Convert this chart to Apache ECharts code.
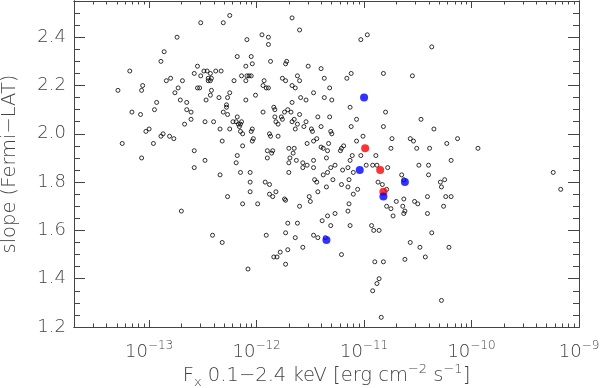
<!DOCTYPE html>
<html>
<head>
<meta charset="utf-8">
<script src="https://cdn.jsdelivr.net/npm/echarts@6/dist/echarts.min.js"></script>
<style>
  html, body { margin: 0; padding: 0; background: #fff; }
  #chart { width: 600px; height: 388px; }
</style>
</head>
<body>
<div id="chart"></div>
<script>
// log10 of F_x (0.1-2.4 keV) and Fermi-LAT slope, open circles
const logFlux = [
  -12.74, -12.86, -12.89, -13.18, -12.55, -12.58, -13.29, -13.06, -13.07, -12.80,
  -12.84, -12.69, -12.73, -12.76, -12.55, -12.53, -12.71, -12.93, -12.95, -12.65,
  -12.65, -12.61, -13.16, -13.08, -12.61, -12.67, -13.00, -13.03, -12.87, -12.89,
  -12.81, -12.77, -12.96, -13.25, -12.58, -13.07, -12.58, -12.70, -12.25, -12.31,
  -12.52, -11.67, -11.60, -11.95, -11.89, -11.89, -12.09, -11.87, -12.18, -12.05,
  -12.10, -12.04, -11.73, -11.72, -12.49, -12.46, -12.43, -12.38, -12.33, -12.52,
  -12.45, -12.43, -12.45, -12.42, -12.21, -12.14, -12.10, -12.09, -12.07, -12.05,
  -11.76, -11.73, -12.42, -12.47, -12.43, -12.35, -12.25, -12.27, -12.48, -12.40,
  -12.34, -12.28, -12.28, -12.31, -12.27, -12.25, -12.18, -12.22, -12.19, -12.17,
  -12.15, -12.14, -12.16, -12.15, -12.13, -12.10, -12.01, -11.94, -11.93, -11.91,
  -11.89, -11.94, -11.84, -11.83, -11.71, -11.74, -11.77, -11.76, -11.83, -11.82,
  -11.80, -11.80, -11.88, -11.87, -12.04, -12.05, -12.32, -12.13, -12.03, -12.04,
  -11.70, -11.03, -10.97, -11.52, -11.40, -11.62, -11.60, -11.37, -11.12, -11.16,
  -10.82, -10.55, -11.67, -11.64, -11.32, -11.47, -11.37, -11.30, -11.59, -11.54,
  -11.67, -11.13, -10.80, -10.47, -11.68, -11.60, -11.43, -11.32, -11.65, -11.67,
  -11.62, -11.54, -11.56, -11.64, -11.49, -11.48, -11.40, -11.31, -11.30, -11.07,
  -11.12, -10.82, -11.01, -11.07, -10.74, -10.57, -10.54, -11.44, -11.47, -11.33,
  -11.53, -11.40, -11.38, -11.19, -11.21, -11.65, -10.75, -10.51, -10.37, -10.35,
  -10.13, -10.23, -9.94, -10.19, -9.24, -9.17, -10.25, -10.29, -10.28, -10.24,
  -10.19, -10.26, -10.37, -10.21, -10.28, -12.48, -12.18, -12.19, -12.34, -12.15,
  -12.06, -12.06, -12.06, -11.92, -11.88, -11.88, -11.85, -11.82, -11.74, -11.73,
  -12.27, -12.13, -11.99, -12.41, -12.32, -11.91, -11.71, -11.73, -11.78, -11.84,
  -11.81, -11.71, -11.73, -12.08, -11.90, -11.86, -11.85, -11.90, -11.69, -11.70,
  -11.70, -11.63, -11.66, -11.57, -11.53, -11.57, -11.47, -11.47, -11.34, -11.35,
  -11.22, -11.27, -11.31, -11.11, -11.03, -11.13, -11.15, -11.20, -11.10, -10.98,
  -10.92, -10.88, -10.89, -10.78, -10.49, -10.40, -10.40, -11.38, -11.34, -11.29,
  -11.46, -11.44, -11.43, -11.51, -11.50, -11.60, -11.35, -11.21, -11.15, -11.14,
  -11.10, -11.06, -10.87, -10.83, -10.65, -10.63, -10.79, -10.70, -10.79, -10.75,
  -10.73, -10.63, -10.64, -10.62, -10.63, -10.53, -10.50, -10.41, -10.41, -11.14,
  -11.15, -11.27, -11.34, -11.39, -11.62, -11.31, -11.13, -10.93, -10.91, -10.86,
  -11.64, -11.47, -11.43, -11.36, -11.57, -11.21, -10.90, -10.82, -10.62, -10.57,
  -10.48, -10.43, -10.39, -10.86, -10.88, -10.92, -10.84
];
const slope = [
  2.40, 2.34, 2.30, 2.26, 2.28, 2.25, 2.18, 2.20, 2.18, 2.23,
  2.22, 2.22, 2.19, 2.17, 2.19, 2.19, 2.14, 2.13, 2.10, 2.13,
  2.10, 2.09, 2.09, 2.08, 2.06, 2.04, 2.02, 2.01, 2.00, 1.99,
  1.99, 1.98, 1.96, 1.96, 1.93, 1.90, 1.86, 1.68, 2.49, 2.46,
  2.46, 2.48, 2.43, 2.41, 2.40, 2.37, 2.39, 2.30, 2.32, 2.32,
  2.28, 2.29, 2.29, 2.30, 2.26, 2.26, 2.25, 2.26, 2.26, 2.24,
  2.23, 2.22, 2.22, 2.23, 2.22, 2.24, 2.22, 2.24, 2.24, 2.24,
  2.23, 2.22, 2.18, 2.14, 2.16, 2.15, 2.17, 2.15, 2.05, 2.05,
  2.02, 2.12, 2.11, 2.09, 2.08, 2.02, 2.07, 2.05, 2.05, 2.04,
  2.04, 2.05, 2.03, 2.01, 2.00, 2.14, 2.16, 2.20, 2.22, 2.19,
  2.19, 2.09, 2.11, 2.10, 2.10, 2.09, 2.07, 2.06, 2.07, 2.05,
  2.04, 1.99, 2.00, 1.99, 2.02, 2.01, 1.97, 1.95, 1.98, 1.97,
  1.94, 2.39, 2.41, 2.28, 2.27, 2.24, 2.22, 2.23, 2.25, 2.23,
  2.25, 2.24, 2.20, 2.19, 2.19, 2.17, 2.15, 2.14, 2.15, 2.14,
  2.13, 2.11, 2.09, 2.06, 2.09, 2.08, 2.07, 2.07, 2.06, 2.05,
  2.04, 2.05, 2.03, 2.02, 2.02, 2.01, 2.03, 2.01, 2.00, 2.06,
  2.03, 2.03, 1.99, 1.97, 1.98, 1.98, 1.97, 1.98, 1.97, 1.96,
  1.96, 1.945, 1.94, 1.95, 1.94, 1.94, 1.94, 1.94, 2.36, 2.02,
  1.98, 1.96, 1.94, 1.89, 1.84, 1.77, 1.81, 1.80, 1.78, 1.74,
  1.74, 1.70, 1.59, 1.53, 1.31, 1.89, 1.91, 1.88, 1.83, 1.84,
  1.84, 1.80, 1.76, 1.80, 1.79, 1.75, 1.74, 1.76, 1.73, 1.725,
  1.74, 1.71, 1.71, 1.58, 1.55, 1.58, 1.63, 1.59, 1.51, 1.49,
  1.49, 1.52, 1.46, 1.44, 1.93, 1.92, 1.93, 1.90, 1.90, 1.88,
  1.84, 1.89, 1.92, 1.88, 1.87, 1.86, 1.86, 1.89, 1.93, 1.90,
  1.93, 1.87, 1.86, 1.91, 1.91, 1.89, 1.86, 1.85, 1.84, 1.87,
  1.87, 1.87, 1.91, 1.86, 1.87, 1.87, 1.83, 1.83, 1.84, 1.81,
  1.81, 1.80, 1.76, 1.74, 1.72, 1.70, 1.78, 1.79, 1.78, 1.81,
  1.75, 1.77, 1.80, 1.79, 1.83, 1.81, 1.77, 1.72, 1.70, 1.69,
  1.66, 1.73, 1.70, 1.68, 1.67, 1.72, 1.71, 1.74, 1.67, 1.71,
  1.68, 1.67, 1.66, 1.64, 1.63, 1.62, 1.62, 1.62, 1.60, 1.60,
  1.57, 1.58, 1.57, 1.57, 1.53, 1.50, 1.47, 1.47, 1.48, 1.55,
  1.53, 1.49, 1.94, 1.40, 1.38, 1.35, 1.24
];

// highlighted sources
const blueLogFlux = [-11.00, -11.04, -10.62, -10.82, -11.35];
const blueSlope = [2.15, 1.85, 1.80, 1.74, 1.56];
const redLogFlux = [-10.99, -10.85, -10.82];
const redSlope = [1.94, 1.85, 1.76];

// axes
const xMin = Math.log10(2e-14);
const xMax = -9;
const yMin = 1.2;
const yMax = 2.55;
const xTicks = [-13, -12, -11, -10, -9];
const yTicks = [1.2, 1.4, 1.6, 1.8, 2.0, 2.2, 2.4];

const xMinor = [];
for (let d = -14; d <= -10; d++) {
  for (let k = 2; k <= 9; k++) {
    const v = d + Math.log10(k);
    if (v > xMin && v < xMax) xMinor.push(v);
  }
}
const yMinor = [];
for (let i = 1; i * 0.05 + yMin < yMax; i++) {
  const v = +(yMin + i * 0.05).toFixed(2);
  if (i % 4 !== 0) yMinor.push(v);
}

const lineColor = '#444';
const textColor = '#444';
const font = "'DejaVu Sans ExtraLight', 'DejaVu Sans', sans-serif";
const weight = 200;

function xAxis(position, ticks, len, labels) {
  return {
    type: 'value', min: xMin, max: xMax, position: position,
    axisLine: { show: true, onZero: false, lineStyle: { color: lineColor, width: 1 } },
    axisTick: { show: true, inside: true, length: len, customValues: ticks, lineStyle: { color: lineColor } },
    axisLabel: labels ? {
      show: true, customValues: ticks, margin: 13,
      color: textColor, fontFamily: font, fontWeight: weight, fontSize: 18, lineHeight: 24,
      formatter: v => '10{sup|' + String(Math.round(v)).replace('-', '\u2212') + '}',
      rich: { sup: { fontSize: 12, lineHeight: 12, verticalAlign: 'top', color: textColor, fontFamily: font, fontWeight: weight } }
    } : { show: false },
    splitLine: { show: false }
  };
}

function yAxis(position, ticks, len, labels) {
  return {
    type: 'value', min: yMin, max: yMax, position: position,
    axisLine: { show: true, onZero: false, lineStyle: { color: lineColor, width: 1 } },
    axisTick: { show: true, inside: true, length: len, customValues: ticks, lineStyle: { color: lineColor } },
    axisLabel: labels ? {
      show: true, customValues: ticks, margin: 8,
      color: textColor, fontFamily: font, fontWeight: weight, fontSize: 18,
      formatter: v => v.toFixed(1)
    } : { show: false },
    splitLine: { show: false }
  };
}

const xMain = xAxis('bottom', xTicks, 7, true);
xMain.name = 'F{sub|x} 0.1\u22122.4 keV [erg cm{sup|\u22122} s{sup|\u22121}]';
xMain.nameLocation = 'middle';
xMain.nameGap = 36;
xMain.nameMoveOverlap = false;
xMain.nameTextStyle = {
  color: textColor, fontFamily: font, fontWeight: weight, fontSize: 19.5, lineHeight: 26,
  rich: {
    sup: { fontSize: 13, lineHeight: 12, verticalAlign: 'top', color: textColor, fontFamily: font, fontWeight: weight },
    sub: { fontSize: 13, lineHeight: 12, verticalAlign: 'bottom', color: textColor, fontFamily: font, fontWeight: weight }
  }
};

const yMain = yAxis('left', yTicks, 11, true);
yMain.name = 'slope (Fermi\u2212LAT)';
yMain.nameLocation = 'middle';
yMain.nameGap = 54;
yMain.nameMoveOverlap = false;
yMain.nameTextStyle = { color: textColor, fontFamily: font, fontWeight: weight, fontSize: 19.5 };

const chart = echarts.init(document.getElementById('chart'));
chart.setOption({
  backgroundColor: '#fff',
  animation: false,
  grid: { left: 74, right: 21, top: 1, bottom: 61, containLabel: false, outerBoundsMode: 'none' },
  xAxis: [
    xMain,
    xAxis('bottom', xMinor, 3.5, false),
    xAxis('top', xTicks, 7, false),
    xAxis('top', xMinor, 3.5, false)
  ],
  yAxis: [
    yMain,
    yAxis('left', yMinor, 6, false),
    yAxis('right', yTicks, 11, false),
    yAxis('right', yMinor, 6, false)
  ],
  series: [
    {
      type: 'scatter', xAxisIndex: 0, yAxisIndex: 0,
      data: logFlux.map((v, i) => [v, slope[i]]),
      symbol: 'circle', symbolSize: 4,
      itemStyle: { color: 'rgba(0,0,0,0)', borderColor: '#000', borderWidth: 1 },
      emphasis: { disabled: true }
    },
    {
      type: 'scatter', xAxisIndex: 0, yAxisIndex: 0,
      data: redLogFlux.map((v, i) => [v, redSlope[i]]),
      symbol: 'circle', symbolSize: 8,
      itemStyle: { color: '#ff0000' },
      emphasis: { disabled: true }
    },
    {
      type: 'scatter', xAxisIndex: 0, yAxisIndex: 0,
      data: blueLogFlux.map((v, i) => [v, blueSlope[i]]),
      symbol: 'circle', symbolSize: 8,
      itemStyle: { color: '#0000ff' },
      emphasis: { disabled: true }
    }
  ]
});
</script>
</body>
</html>
